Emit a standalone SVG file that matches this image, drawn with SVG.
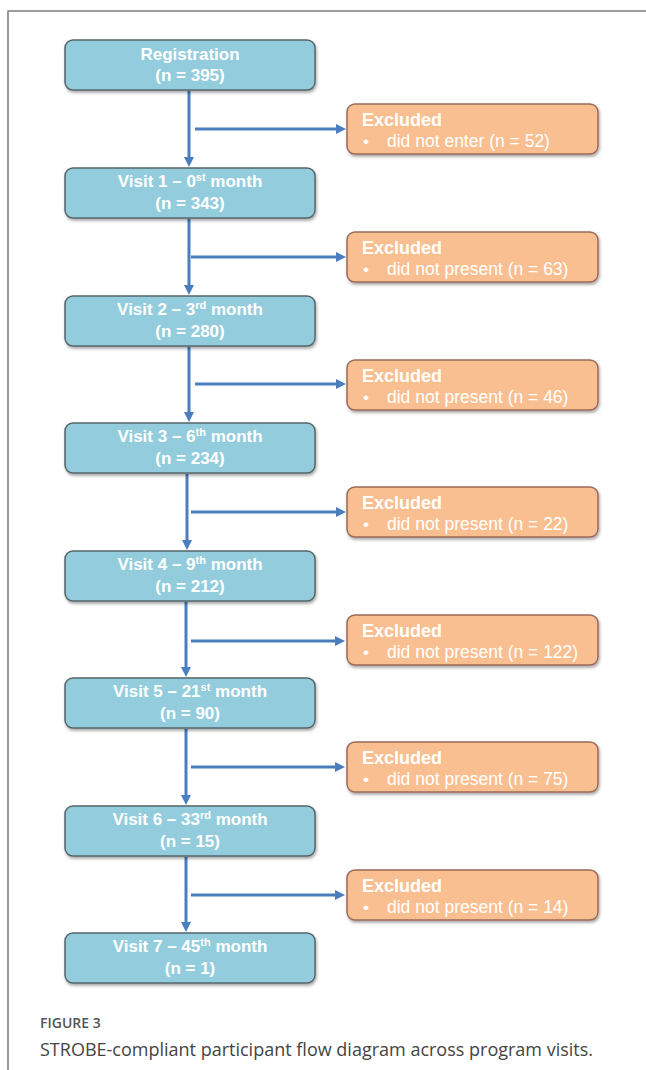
<svg xmlns="http://www.w3.org/2000/svg" width="646" height="1070" viewBox="0 0 646 1070">
<style>
.vb{fill:#93CDDD;stroke:#56666b;stroke-width:1.5;filter:url(#sh)}
.ex{fill:#F9BF90;stroke:#9c6a58;stroke-width:1.5;filter:url(#sh)}
.t{font-family:"Liberation Sans",Arial,sans-serif;font-size:17px;fill:#fff}
.e{font-size:17.5px}
.h{font-size:18px}
.b{font-weight:bold}
.c{text-anchor:middle}
.sup{font-size:11px}
.ar{stroke:#4A7EBF;stroke-width:3;fill:none;marker-end:url(#ah)}
.cap1{font-family:"Open Sans","Noto Sans",sans-serif;font-size:14px;fill:#555;font-weight:600}
.cap2{font-family:"Open Sans","Noto Sans",sans-serif;font-size:18px;fill:#444}
</style>
<defs>
<filter id="sh" x="-10%" y="-20%" width="130%" height="160%">
<feDropShadow dx="1" dy="2" stdDeviation="1.5" flood-color="#000" flood-opacity="0.35"/>
</filter>
<marker id="ah" markerUnits="userSpaceOnUse" markerWidth="12" markerHeight="12" refX="1" refY="5" orient="auto">
<path d="M0,0 L10,5 L0,10 z" fill="#4A7EBF"/>
</marker>
</defs>
<rect width="646" height="1070" fill="#fff"/>
<path d="M8,1070 L8,11 L646,11" fill="none" stroke="#7a7a80" stroke-width="1.5"/>

<g id="connectors">
<line class="ar" x1="189" y1="91" x2="189" y2="158"/>
<line class="ar" x1="195" y1="129" x2="337" y2="129"/>
<line class="ar" x1="189" y1="219" x2="189" y2="286"/>
<line class="ar" x1="191" y1="257" x2="337" y2="257"/>
<line class="ar" x1="189" y1="347" x2="189" y2="413"/>
<line class="ar" x1="195" y1="384" x2="337" y2="384"/>
<line class="ar" x1="187" y1="474" x2="187" y2="541"/>
<line class="ar" x1="191" y1="512" x2="337" y2="512"/>
<line class="ar" x1="186" y1="602" x2="186" y2="668"/>
<line class="ar" x1="191" y1="641" x2="336" y2="641"/>
<line class="ar" x1="186" y1="729" x2="186" y2="796"/>
<line class="ar" x1="191" y1="767" x2="336" y2="767"/>
<line class="ar" x1="186" y1="857" x2="186" y2="923"/>
<line class="ar" x1="191" y1="895" x2="336" y2="895"/>
</g>

<g id="registration">
<rect class="vb" x="65" y="40" width="250" height="50" rx="8"/>
<text class="t b c" x="190" y="60">Registration</text>
<text class="t b c" x="190" y="81">(n = 395)</text>
</g>
<g id="excluded1">
<rect class="ex" x="347" y="104" width="251" height="50" rx="8"/>
<text class="t h b" x="362" y="126">Excluded</text>
<text class="t" x="363" y="147">•</text>
<text class="t e" x="387" y="147">did not enter (n = 52)</text>
</g>
<g id="visit1">
<rect class="vb" x="65" y="168" width="250" height="50" rx="8"/>
<text class="t b c" x="190" y="187">Visit 1 – 0<tspan class="sup" dy="-6">st</tspan><tspan dy="6"> month</tspan></text>
<text class="t b c" x="190" y="209">(n = 343)</text>
</g>
<g id="excluded2">
<rect class="ex" x="347" y="232" width="251" height="50" rx="8"/>
<text class="t h b" x="362" y="254">Excluded</text>
<text class="t" x="363" y="275">•</text>
<text class="t e" x="387" y="275">did not present (n = 63)</text>
</g>
<g id="visit2">
<rect class="vb" x="65" y="296" width="250" height="50" rx="8"/>
<text class="t b c" x="190" y="315">Visit 2 – 3<tspan class="sup" dy="-6">rd</tspan><tspan dy="6"> month</tspan></text>
<text class="t b c" x="190" y="337">(n = 280)</text>
</g>
<g id="excluded3">
<rect class="ex" x="347" y="360" width="251" height="50" rx="8"/>
<text class="t h b" x="362" y="382">Excluded</text>
<text class="t" x="363" y="403">•</text>
<text class="t e" x="387" y="403">did not present (n = 46)</text>
</g>
<g id="visit3">
<rect class="vb" x="65" y="423" width="250" height="50" rx="8"/>
<text class="t b c" x="190" y="442">Visit 3 – 6<tspan class="sup" dy="-6">th</tspan><tspan dy="6"> month</tspan></text>
<text class="t b c" x="190" y="464">(n = 234)</text>
</g>
<g id="excluded4">
<rect class="ex" x="347" y="487" width="251" height="50" rx="8"/>
<text class="t h b" x="362" y="509">Excluded</text>
<text class="t" x="363" y="530">•</text>
<text class="t e" x="387" y="530">did not present (n = 22)</text>
</g>
<g id="visit4">
<rect class="vb" x="65" y="551" width="250" height="50" rx="8"/>
<text class="t b c" x="190" y="570">Visit 4 – 9<tspan class="sup" dy="-6">th</tspan><tspan dy="6"> month</tspan></text>
<text class="t b c" x="190" y="592">(n = 212)</text>
</g>
<g id="excluded5">
<rect class="ex" x="347" y="615" width="251" height="50" rx="8"/>
<text class="t h b" x="362" y="637">Excluded</text>
<text class="t" x="363" y="658">•</text>
<text class="t e" x="387" y="658">did not present (n = 122)</text>
</g>
<g id="visit5">
<rect class="vb" x="65" y="678" width="250" height="50" rx="8"/>
<text class="t b c" x="190" y="697">Visit 5 – 21<tspan class="sup" dy="-6">st</tspan><tspan dy="6"> month</tspan></text>
<text class="t b c" x="190" y="719">(n = 90)</text>
</g>
<g id="excluded6">
<rect class="ex" x="347" y="742" width="251" height="50" rx="8"/>
<text class="t h b" x="362" y="764">Excluded</text>
<text class="t" x="363" y="785">•</text>
<text class="t e" x="387" y="785">did not present (n = 75)</text>
</g>
<g id="visit6">
<rect class="vb" x="65" y="806" width="250" height="50" rx="8"/>
<text class="t b c" x="190" y="825">Visit 6 – 33<tspan class="sup" dy="-6">rd</tspan><tspan dy="6"> month</tspan></text>
<text class="t b c" x="190" y="847">(n = 15)</text>
</g>
<g id="excluded7">
<rect class="ex" x="347" y="870" width="251" height="50" rx="8"/>
<text class="t h b" x="362" y="892">Excluded</text>
<text class="t" x="363" y="913">•</text>
<text class="t e" x="387" y="913">did not present (n = 14)</text>
</g>
<g id="visit7">
<rect class="vb" x="65" y="933" width="250" height="50" rx="8"/>
<text class="t b c" x="190" y="952">Visit 7 – 45<tspan class="sup" dy="-6">th</tspan><tspan dy="6"> month</tspan></text>
<text class="t b c" x="190" y="974">(n = 1)</text>
</g>

<g id="caption">
<text class="cap1" x="40" y="1028">FIGURE 3</text>
<text class="cap2" x="40" y="1056">STROBE-compliant participant flow diagram across program visits.</text>
</g>
</svg>
